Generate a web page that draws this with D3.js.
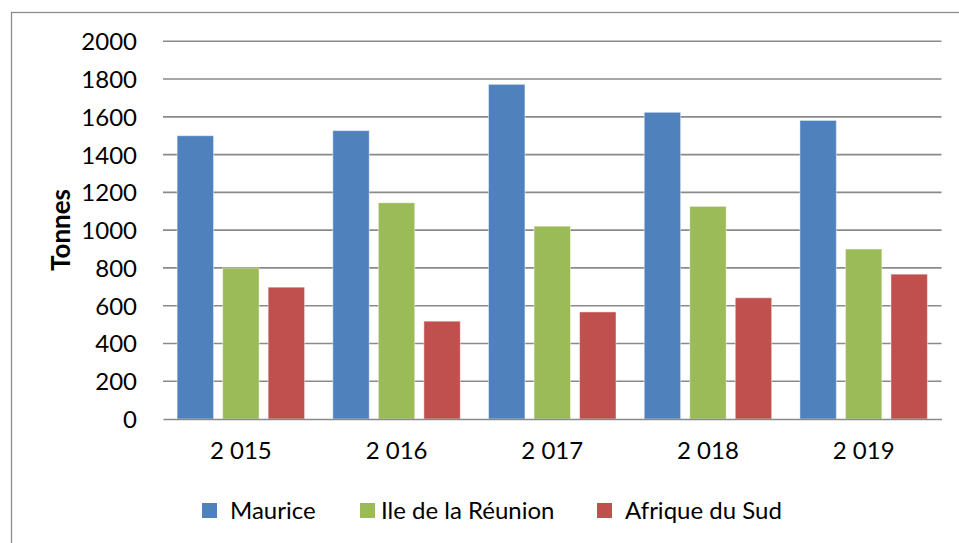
<!DOCTYPE html>
<html>
<head>
<meta charset="utf-8">
<script src="https://cdn.jsdelivr.net/npm/d3@7"></script>
<style>
  body { margin: 0; background: #fff; }
  text { font-family: Lato, "Open Sans", sans-serif; fill: #000; }
</style>
</head>
<body>
<div class="chart"></div>
<script>
// chart data
var years = ["2 015", "2 016", "2 017", "2 018", "2 019"];
var seriesNames = ["Maurice", "Ile de la Réunion", "Afrique du Sud"];
var maurice = [1500, 1527, 1772, 1624, 1581];
var reunion = [800, 1145, 1021, 1126, 900];
var afriqueSud = [698, 518, 567, 642, 767];
var yTicks = [0, 200, 400, 600, 800, 1000, 1200, 1400, 1600, 1800, 2000];
var colors = ["#4f81bd", "#9bbb59", "#c0504d"];

var svgWidth = 959;
var svgHeight = 543;
var margin = {top: 41.3, right: 17.5, bottom: 124, left: 163};
var width = svgWidth - margin.left - margin.right;
var height = svgHeight - margin.top - margin.bottom;

var svg = d3.select(".chart")
  .append("svg")
  .attr("width", svgWidth)
  .attr("height", svgHeight);

// outer frame (only left + top visible in picture)
svg.append("rect")
  .attr("x", 11.5)
  .attr("y", 12.5)
  .attr("width", 1000)
  .attr("height", 600)
  .attr("fill", "none")
  .attr("stroke", "#8c8c8c")
  .attr("stroke-width", 1.3);

var chart = svg.append("g")
  .attr("transform", "translate(" + margin.left + "," + margin.top + ")");

var seriesData = [maurice, reunion, afriqueSud];
var rows = years.map(function(y, i) {
  return {year: y, values: seriesData.map(function(s, j) { return {name: seriesNames[j], value: s[i], k: j}; })};
});

// scales
var x0 = d3.scaleBand().domain(years).range([0, width]).padding(0);
var x1 = d3.scaleBand().domain(d3.range(3)).range([0, x0.bandwidth()])
  .paddingInner(0.2).paddingOuter(0.31);
var y = d3.scaleLinear().domain([0, 2000]).range([height, 0]);

// gridlines
chart.append("g")
  .selectAll("line")
  .data(yTicks.slice(1))
  .enter()
  .append("line")
  .attr("x1", 0)
  .attr("x2", width)
  .attr("y1", function(d) { return y(d); })
  .attr("y2", function(d) { return y(d); })
  .attr("stroke", "#8a8a8a")
  .attr("stroke-width", 1.6);

// y axis labels
var leftAxis = d3.axisLeft(y).tickValues(yTicks).tickFormat(d3.format("d"))
  .tickSize(0).tickPadding(26);
var yAxisG = chart.append("g").call(leftAxis);
yAxisG.select(".domain").remove();
yAxisG.selectAll("text")
  .style("font-size", "24px")
  .attr("dy", "0.35em");

// bars
var groups = chart.selectAll(".grp")
  .data(rows)
  .enter()
  .append("g")
  .attr("class", "grp")
  .attr("transform", function(d) { return "translate(" + x0(d.year) + ",0)"; });

groups.selectAll("rect")
  .data(function(d) { return d.values; })
  .enter()
  .append("rect")
  .attr("x", function(d) { return x1(d.k); })
  .attr("y", function(d) { return y(d.value); })
  .attr("width", x1.bandwidth())
  .attr("height", function(d) { return height - y(d.value); })
  .attr("fill", function(d) { return colors[d.k]; })
  .attr("stroke", "rgba(255,255,255,0.45)")
  .attr("stroke-width", 1);

// x axis
var bottomAxis = d3.axisBottom(x0).tickSize(0).tickPadding(24);
var xAxisG = chart.append("g")
  .attr("transform", "translate(0," + height + ")")
  .call(bottomAxis);
xAxisG.select(".domain")
  .attr("stroke", "#8a8a8a")
  .attr("stroke-width", 1.6);
xAxisG.selectAll("text")
  .style("font-size", "24px")
  .attr("dy", "0.68em");

// y axis title
svg.append("text")
  .attr("transform", "translate(70,230) rotate(-90)")
  .attr("text-anchor", "middle")
  .style("font-size", "26px")
  .style("font-weight", "bold")
  .text("Tonnes");

// legend
var legendX = [202, 360, 597];
var legend = svg.selectAll(".legend")
  .data(seriesNames)
  .enter()
  .append("g")
  .attr("class", "legend")
  .attr("transform", function(d, i) { return "translate(" + legendX[i] + ",503)"; });

legend.append("rect")
  .attr("width", 15)
  .attr("height", 15)
  .attr("fill", function(d, i) { return colors[i]; });

legend.append("text")
  .attr("x", function(d, i) { return i === 1 ? 21 : 28; })
  .attr("y", 7.5)
  .attr("dy", "0.35em")
  .style("font-size", "24px")
  .text(function(d) { return d; });
</script>
</body>
</html>
